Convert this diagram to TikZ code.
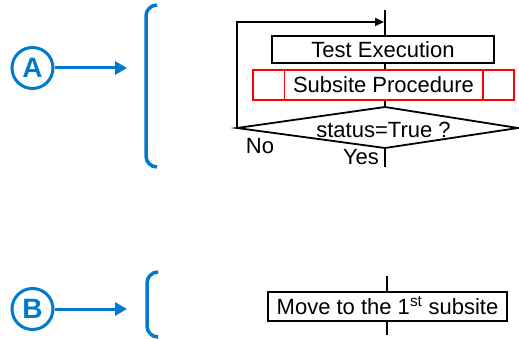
\documentclass[tikz,border=0pt]{standalone}
\usepackage{fontspec}
\setmainfont{Liberation Sans}
\usetikzlibrary{arrows.meta,shapes.geometric}
\definecolor{myblue}{RGB}{0,122,204}
\begin{document}
\begin{tikzpicture}[x=1pt,y=-1pt,
  font=\fontsize{22}{26}\selectfont,
  blueline/.style={myblue,line width=3pt},
  badge/.style={circle,draw=myblue,line width=3pt,minimum size=41pt,inner sep=0pt,text=myblue,font=\fontsize{28}{30}\selectfont\bfseries},
  bracket/.style={myblue,line width=3.5pt,rounded corners=11pt},
  flowline/.style={black,line width=1.8pt},
  procbox/.style={draw,line width=1.8pt,inner sep=0pt,text height=16pt,text depth=0pt},
  redbox/.style={draw=red,line width=1.5pt,inner sep=0pt,text height=16pt,text depth=0pt},
  bluetip/.style={-{Triangle[length=12pt,width=13pt]}},
  blacktip/.style={-{Triangle[length=9pt,width=8pt]}}
]
\useasboundingbox (0,0) rectangle (519,339);

% ---- A ----
\node[badge] (A) at (32.5,68) {A};
\coordinate (Aend) at (127,68);
\draw[blueline,bluetip] (A) -- (Aend);
\draw[bracket] (157,5) -- (146,5) -- (146,167) -- (157,167);

% ---- flowchart A ----
\node[procbox,minimum width=222pt,minimum height=27pt] (test) at (383,49.5) {Test Execution};
\node[redbox,minimum width=261pt,minimum height=30pt] (sub) at (383.5,85) {Subsite Procedure};
\draw[red,line width=1.5pt] ([xshift=32pt]sub.north west) -- ([xshift=32pt]sub.south west);
\draw[red,line width=1.5pt] ([xshift=-32pt]sub.north east) -- ([xshift=-32pt]sub.south east);

\coordinate (dT) at (385,107);
\coordinate (dL) at (237,128);
\coordinate (dR) at (518,128);
\coordinate (dB) at (385,148);
\draw[flowline,line join=miter] (dT) -- (dR) -- (dB) -- (dL) -- cycle;
\node (cond) at (383.5,130) {status=True ?};

\coordinate (top) at (385,10);
\draw[flowline] (top) -- (top |- test.north);
\draw[flowline] (top |- test.south) -- (top |- sub.north);
\draw[flowline] (top |- sub.south) -- (dT);
\coordinate (loopc) at (237,22);
\coordinate (looptip) at (384,22);
\draw[flowline,blacktip] (dL) -- (loopc) -- (looptip);
\coordinate (yesend) at (385,167);
\draw[flowline] (dB) -- (yesend);
\node (no) at (260,146) {No};
\node (yes) at (361,157) {Yes};

% ---- B ----
\node[badge] (B) at (32.5,309) {B};
\coordinate (Bend) at (127,309);
\draw[blueline,bluetip] (B) -- (Bend);
\draw[bracket] (157,272) -- (147,272) -- (147,337) -- (157,337);

\node[procbox,minimum width=239pt,minimum height=29pt] (move) at (387.5,306.5) {Move to the 1\textsuperscript{st} subsite};
\coordinate (mtop) at (387,276);
\coordinate (mbot) at (387,335);
\draw[flowline] (mtop) -- (mtop |- move.north);
\draw[flowline] (mbot |- move.south) -- (mbot);
\end{tikzpicture}
\end{document}
